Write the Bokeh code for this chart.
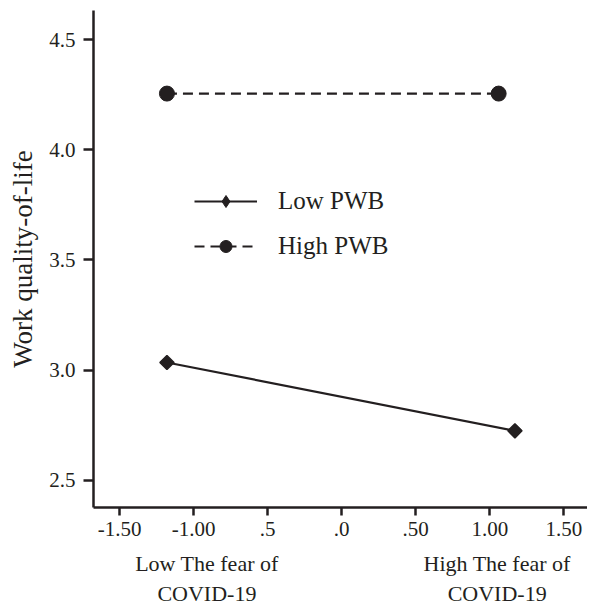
import math
from bokeh.plotting import figure
from bokeh.models import Range1d, LinearAxis, FixedTicker, Legend, LegendItem
from bokeh.embed import file_html
from bokeh.resources import INLINE

# Data
low_x = [-1.18, 1.17]
low_y = [3.035, 2.725]
high_x = [-1.18, 1.06]
high_y = [4.255, 4.255]
x_ticks = [-1.5, -1.0, -0.5, 0.0, 0.5, 1.0, 1.5]
x_tick_labels = ["-1.50", "-1.00", ".5", ".0", ".50", "1.00", "1.50"]
y_ticks = [2.5, 3.0, 3.5, 4.0, 4.5]
y_tick_labels = ["2.5", "3.0", "3.5", "4.0", "4.5"]
group_pos = [-0.91, 1.05]
group_labels = ["Low The fear of\nCOVID-19", "High The fear of\nCOVID-19"]
series_names = ["Low PWB", "High PWB"]

FONT = "Liberation Serif"
INK = "#231f20"
Y0, Y1 = 2.377, 4.632

p = figure(width=587, height=608, output_backend="svg", toolbar_location=None,
           x_range=Range1d(-1.676, 1.66), y_range=Range1d(Y0, Y1),
           min_border_left=93, min_border_right=0, min_border_top=10, min_border_bottom=60,
           x_axis_location=None, y_axis_location=None)
p.outline_line_color = None
p.xgrid.grid_line_color = None
p.ygrid.grid_line_color = None
p.background_fill_color = "white"
p.border_fill_color = "white"

# Y axis
yax = LinearAxis(ticker=FixedTicker(ticks=y_ticks),
                 major_label_overrides={t: l for t, l in zip(y_ticks, y_tick_labels)},
                 axis_label="Work quality-of-life")
yax.axis_line_width = 2.5
yax.axis_line_color = INK
yax.major_tick_line_width = 2.5
yax.major_tick_line_color = INK
yax.major_tick_out = 10
yax.major_tick_in = 0
yax.minor_tick_line_color = None
yax.major_label_text_font = FONT
yax.major_label_text_font_size = "21px"
yax.major_label_text_color = INK
yax.major_label_standoff = 8
yax.axis_label_text_font = FONT
yax.axis_label_text_font_size = "27px"
yax.axis_label_text_font_style = "normal"
yax.axis_label_text_color = INK
yax.axis_label_standoff = 8
p.add_layout(yax, "left")

# X axis
xax = LinearAxis(ticker=FixedTicker(ticks=x_ticks),
                 major_label_overrides={t: l for t, l in zip(x_ticks, x_tick_labels)})
xax.axis_line_width = 2.5
xax.axis_line_color = INK
xax.major_tick_line_width = 2.5
xax.major_tick_line_color = INK
xax.major_tick_out = 8
xax.major_tick_in = 0
xax.minor_tick_line_color = None
xax.major_label_text_font = FONT
xax.major_label_text_font_size = "21px"
xax.major_label_text_color = INK
xax.major_label_standoff = 6
p.add_layout(xax, "below")

# Group label axis (text only)
gax = LinearAxis(ticker=FixedTicker(ticks=group_pos),
                 major_label_overrides={t: l for t, l in zip(group_pos, group_labels)})
gax.axis_line_color = None
gax.major_tick_line_color = None
gax.major_tick_out = 0
gax.major_tick_in = 0
gax.minor_tick_line_color = None
gax.major_label_text_font = FONT
gax.major_label_text_font_size = "22px"
gax.major_label_text_color = INK
gax.major_label_text_line_height = 1.2
gax.major_label_standoff = 12
p.add_layout(gax, "below")

# Lines
l1 = p.line(low_x, low_y, line_color=INK, line_width=2.2)
m1 = p.scatter(low_x, low_y, marker="square", size=10, angle=math.pi / 4,
               fill_color=INK, line_color=INK, line_width=1.5)
m1_leg = p.scatter(low_x, low_y, marker="diamond", size=17,
                   fill_color=INK, line_color=INK, line_width=1, visible=False)
l2 = p.line(high_x, high_y, line_color=INK, line_width=2.2, line_dash="10 6")
m2 = p.scatter(high_x, high_y, marker="circle", size=15, fill_color=INK, line_color=INK)

legend = Legend(items=[LegendItem(label=series_names[0], renderers=[l1, m1_leg]),
                       LegendItem(label=series_names[1], renderers=[l2, m2])],
                location=(101, 246))
legend.border_line_color = None
legend.background_fill_alpha = 0
legend.inactive_fill_alpha = 0
legend.label_text_font = FONT
legend.label_text_font_size = "25px"
legend.label_text_color = INK
legend.glyph_width = 63
legend.glyph_height = 30
legend.label_standoff = 21
legend.spacing = 15
legend.padding = 0
legend.margin = 0
p.add_layout(legend, "center")

open("out.html", "w").write(file_html(p, INLINE))
